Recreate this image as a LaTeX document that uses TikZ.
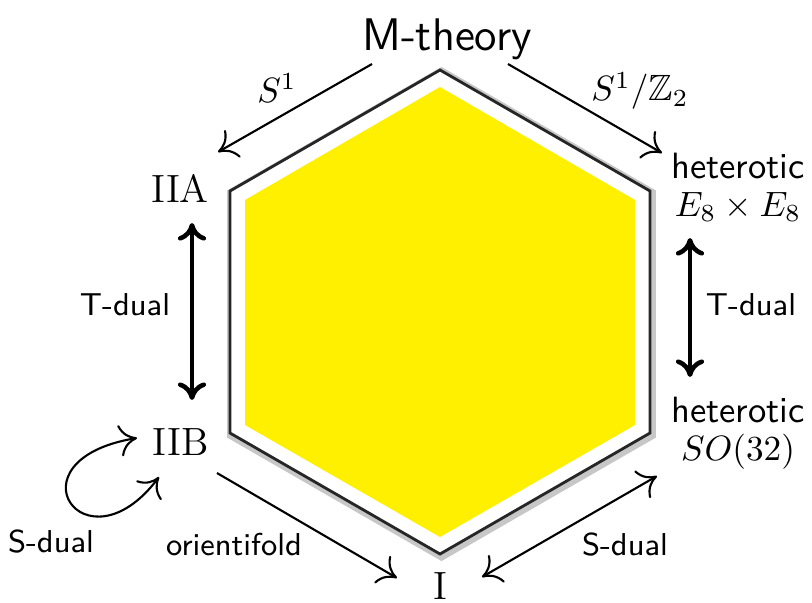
\documentclass[tikz,border=0pt]{standalone}
\usepackage{amsmath,amssymb}
\usepackage{xcolor}
\usepackage{tikz}
\usetikzlibrary{arrows.meta,calc}

\definecolor{hexyellow}{RGB}{255,240,0}

\begin{document}
\begin{tikzpicture}[x=0.01cm,y=-0.01cm,
  theory/.style={inner sep=0pt,font=\fontsize{11.2}{12}\selectfont},
  hetero/.style={inner sep=0pt,align=center,font=\fontsize{10.4}{10.8}\selectfont\sffamily},
  lbl/.style={font=\fontsize{9}{10}\selectfont\sffamily},
  mlbl/.style={font=\fontsize{10.4}{12}\selectfont},
  thinarr/.style={line width=0.6pt,-{To[length=5pt,width=9pt]}},
  thinboth/.style={line width=0.6pt,{To[length=5pt,width=9pt]}-{To[length=5pt,width=9pt]}},
  thickboth/.style={line width=1.3pt,{To[length=5pt,width=8pt]}-{To[length=5pt,width=8pt]}}]
\useasboundingbox (0,0) rectangle (812,602);

% the hexagon
\draw[black!22,line width=2.5pt,shift={(1.5,2)}] (440,70) -- (650,191) -- (650,433) -- (440,554) -- (230,433) -- (230,191) -- cycle;
\draw[black!85,line width=0.8pt,fill=white] (440,70) -- (650,191) -- (650,433) -- (440,554) -- (230,433) -- (230,191) -- cycle;
\fill[hexyellow] (440,87) -- (635,200) -- (635,425) -- (440,537) -- (245,425) -- (245,200) -- cycle;

% theories
\node[anchor=base,inner sep=0pt,font=\fontsize{13}{14}\selectfont\sffamily] (M) at (447,50) {M-theory};
\node[theory,anchor=base] (IIA) at (180,202) {IIA};
\node[theory,anchor=base] (IIB) at (181,455) {IIB};
\node[theory,anchor=base] (I) at (440,599) {I};
\node[hetero,anchor=north] (het1) at (738,152) {heterotic\\$E_8\times E_8$};
\node[hetero,anchor=north] (het2) at (738,396) {heterotic\\$SO(32)$};

% dualities
\draw[thinarr] ([shift={(-75,14)}]M.base) -- ([shift={(38,-50)}]IIA.base);
\draw[thinarr] ([shift={(61,14)}]M.base) -- ([shift={(-76,1)}]het1.north);
\draw[thickboth] ([shift={(12,21)}]IIA.base) -- ([shift={(11,-55)}]IIB.base);
\draw[thickboth] ([shift={(-48,86)}]het1.north) -- ([shift={(-48,-19)}]het2.north);
\draw[thinarr] ([shift={(36,18)}]IIB.base) -- ([shift={(-43,-21)}]I.base);
\draw[thinboth] ([shift={(42,-22)}]I.base) -- ([shift={(-81,80)}]het2.north);
\coordinate (loopb) at ([shift={(-22,22)}]IIB.base);
\coordinate (loopa) at ([shift={(-44,-17)}]IIB.base);
\draw[thinboth] (loopb) .. controls +(-74,98) and +(-132,22) .. (loopa);

% labels
\node[mlbl] (s1) at (277,88) {$S^1$};
\node[mlbl] (s1z2) at (640,91) {$S^1/\mathbb{Z}_2$};
\node[lbl] (tdualA) at (125,305) {T-dual};
\node[lbl] (tdualB) at (751,305) {T-dual};
\node[lbl] (sdualA) at (51,542) {S-dual};
\node[lbl] (orient) at (234,545) {orientifold};
\node[lbl] (sdualB) at (625,545) {S-dual};
\end{tikzpicture}
\end{document}
